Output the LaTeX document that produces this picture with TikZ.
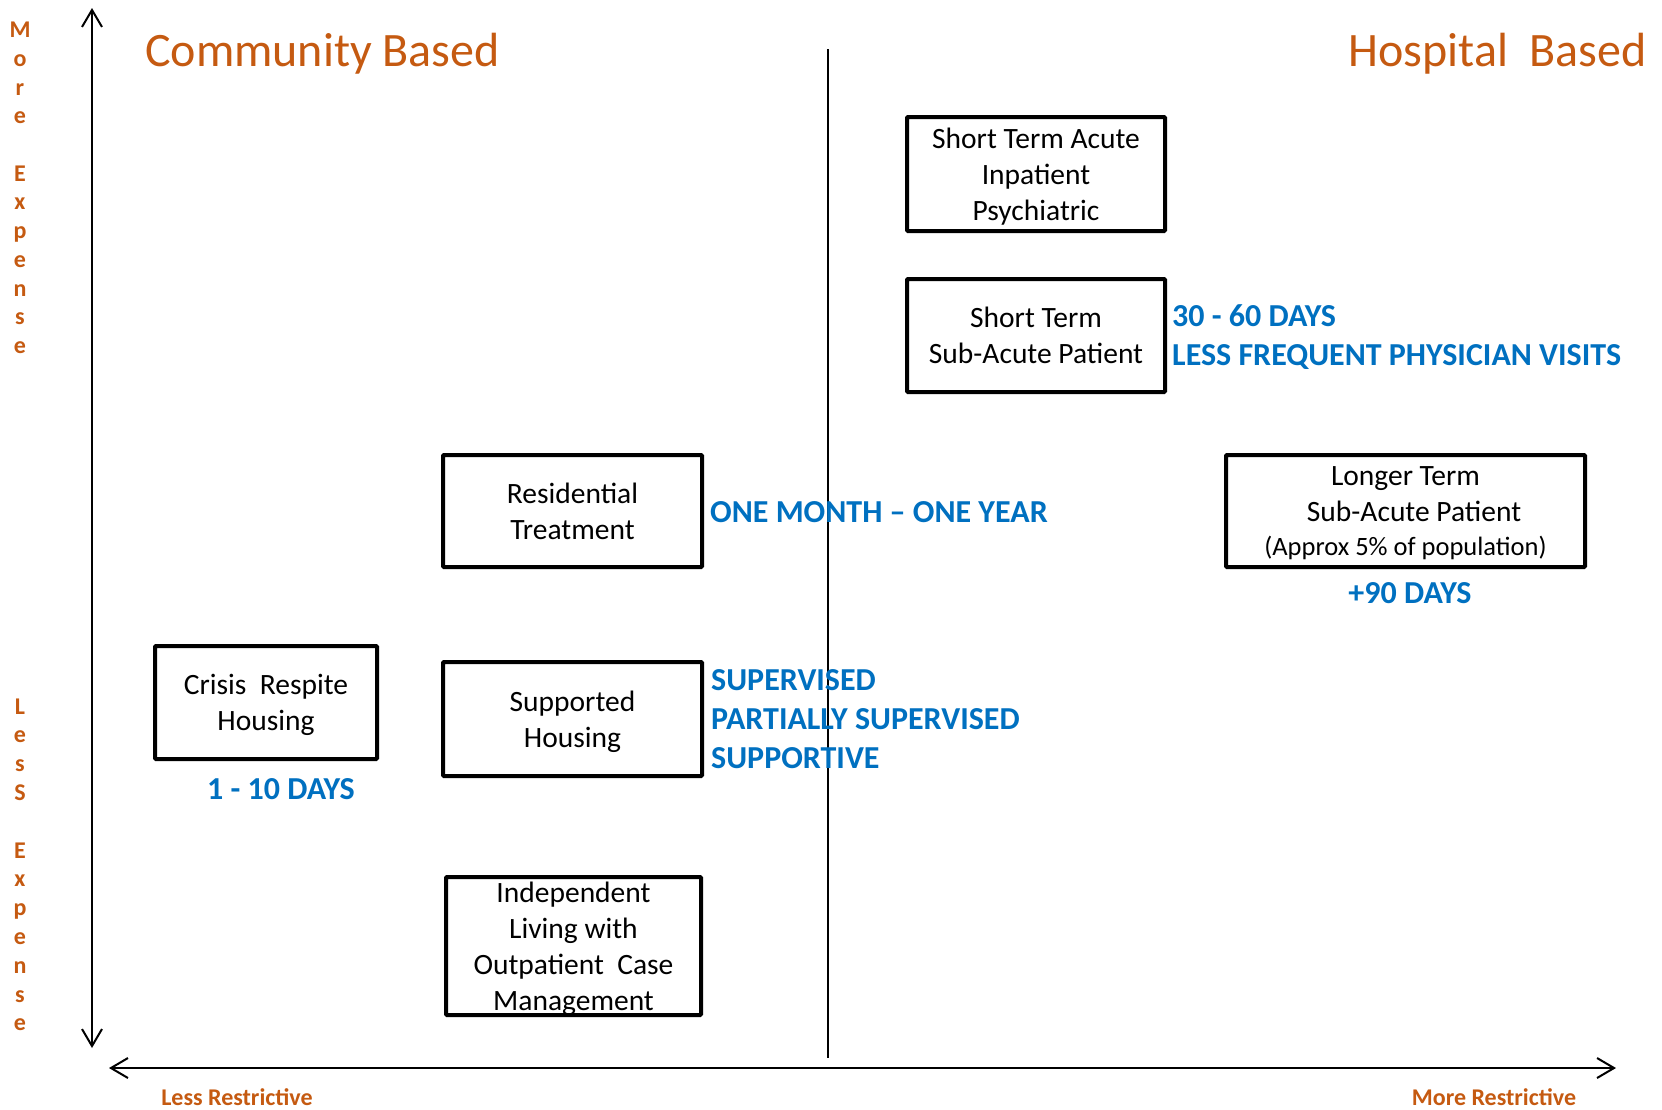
\documentclass[tikz,border=0pt]{standalone}
\usepackage{fontspec}
\setmainfont{Carlito}
\usetikzlibrary{arrows.meta}
\definecolor{rust}{HTML}{C55A11}
\definecolor{skyblue}{HTML}{0070C0}
\begin{document}
\begin{tikzpicture}[x=1pt,y=-1pt,
  boxnode/.style={draw, line width=4pt, inner sep=0pt, align=center, rounded corners=1pt,
    text depth=0pt, font=\fontsize{29.5}{36}\selectfont},
  bluelbl/.style={text=skyblue, inner sep=0pt, font=\fontsize{32}{38}\selectfont\bfseries},
  sidelbl/.style={text=rust, inner sep=0pt, anchor=base, font=\fontsize{24}{29}\selectfont\bfseries},
  titlelbl/.style={text=rust, inner sep=0pt, font=\fontsize{48}{58}\selectfont},
  axislbl/.style={text=rust, inner sep=0pt, anchor=base, font=\fontsize{24}{29}\selectfont\bfseries},
  axisline/.style={line width=2pt, {Straight Barb[length=17pt,width=20pt]}-{Straight Barb[length=17pt,width=20pt]}},
  divider/.style={line width=2pt}]
\useasboundingbox (0,0) rectangle (1662,1109);

% axes
\coordinate (vtop) at (92,8);
\coordinate (vbot) at (92,1048);
\coordinate (hleft) at (109,1068);
\coordinate (hright) at (1616,1068);
\coordinate (dtop) at (828,49);
\coordinate (dbot) at (828,1058);
\draw[axisline] (vbot) -- (vtop);
\draw[axisline] (hleft) -- (hright);
\draw[divider] (dtop) -- (dbot);

% side labels
\foreach \i/\ch in {0/M,1/o,2/r,3/e,5/E,6/x,7/p,8/e,9/n,10/s,11/e}
  \node[sidelbl] (up\i) at (20,{37.7+28.7*\i}) {\ch};
\foreach \i/\ch in {0/L,1/e,2/s,3/S,5/E,6/x,7/p,8/e,9/n,10/s,11/e}
  \node[sidelbl] (lo\i) at (20,{714+28.8*\i}) {\ch};

% titles
\node[titlelbl, anchor=base west] (tcomm) at (145,66) {Community Based};
\node[titlelbl, anchor=base east] (thosp) at (1647,66) {Hospital\ \ Based};

% axis labels
\node[axislbl] (lessr) at (237,1105) {Less Restrictive};
\node[axislbl] (morer) at (1494,1105) {More Restrictive};

% boxes
\node[boxnode, minimum width=258pt, minimum height=114pt] (acute) at (1036,174)
  {Short Term Acute\\Inpatient\\Psychiatric};
\node[boxnode, minimum width=258pt, minimum height=113pt] (subacute) at (1036,335.5)
  {Short Term\\Sub-Acute Patient};
\node[boxnode, minimum width=259pt, minimum height=112pt] (resid) at (572.5,511)
  {Residential\\Treatment};
\node[boxnode, minimum width=359pt, minimum height=112pt] (longer) at (1405.5,511)
  {Longer Term\\\hspace*{17pt}Sub-Acute Patient\\[-2pt]{\fontsize{26.5}{31}\selectfont(Approx 5\% of population)}};
\node[boxnode, minimum width=222pt, minimum height=113pt] (crisis) at (266,702.5)
  {Crisis\ \ Respite\\Housing};
\node[boxnode, minimum width=259pt, minimum height=114pt] (supported) at (572.5,719)
  {Supported\\Housing};
\node[boxnode, minimum width=255pt, minimum height=138pt] (indep) at (573.5,946)
  {Independent\\Living with\\Outpatient\ \ Case\\Management};

% blue notes
\node[bluelbl, anchor=base west] (d3060) at (1172,326) {30 - 60 DAYS};
\node[bluelbl, anchor=base west] (lessfreq) at (1172,365) {LESS FREQUENT PHYSICIAN VISITS};
\node[bluelbl, anchor=base west] (onemonth) at (710,522) {ONE MONTH – ONE YEAR};
\node[bluelbl, anchor=base] (d90) at (1410,603) {+90 DAYS};
\node[bluelbl, anchor=base west] (superv) at (711,690) {SUPERVISED};
\node[bluelbl, anchor=base west] (partial) at (711,729) {PARTIALLY SUPERVISED};
\node[bluelbl, anchor=base west] (supportive) at (711,768) {SUPPORTIVE};
\node[bluelbl, anchor=base] (d110) at (281,799) {1 - 10 DAYS};
\end{tikzpicture}
\end{document}
